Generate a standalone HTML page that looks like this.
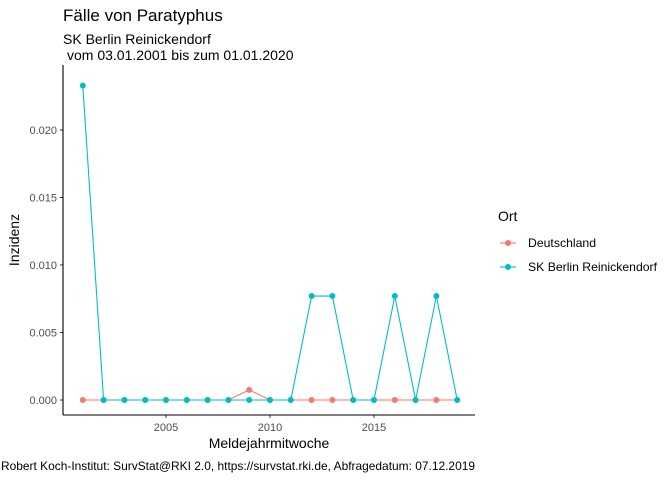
<!DOCTYPE html>
<html><head><meta charset="utf-8"><style>
body{margin:0;background:#fff;font-family:"Liberation Sans",sans-serif}
</style></head><body>
<svg width="672" height="480" font-family="Liberation Sans, sans-serif">
<text x="63" y="21" font-size="17" fill="#000">Fälle von Paratyphus</text>
<text x="63" y="44" font-size="14" fill="#000">SK Berlin Reinickendorf</text>
<text x="67" y="60" font-size="14" fill="#000">vom 03.01.2001 bis zum 01.01.2020</text>
<g id="plot"></g>
<line x1="63" y1="415" x2="475" y2="415" stroke="#000" stroke-width="1.1"/>
<line x1="63" y1="65" x2="63" y2="415" stroke="#000" stroke-width="1.1"/>
<text x="269" y="448" font-size="14" text-anchor="middle">Meldejahrmitwoche</text>
<text transform="translate(19,240) rotate(-90)" font-size="14" text-anchor="middle">Inzidenz</text>
<text x="498" y="221" font-size="14">Ort</text>
<g>
<line x1="500" y1="243" x2="516" y2="243" stroke="#F8766D" stroke-width="1.1"/><circle cx="508" cy="243" r="3" fill="#F8766D"/>
<text x="528" y="247" font-size="12" textLength="68" lengthAdjust="spacingAndGlyphs">Deutschland</text></g>
<g>
<line x1="500" y1="267" x2="516" y2="267" stroke="#00BFC4" stroke-width="1.1"/><circle cx="508" cy="267" r="3" fill="#00BFC4"/>
<text x="528" y="271" font-size="12" textLength="129" lengthAdjust="spacingAndGlyphs">SK Berlin Reinickendorf</text></g>
<text x="1" y="470" font-size="12" textLength="474" lengthAdjust="spacingAndGlyphs">Robert Koch-Institut: SurvStat@RKI 2.0, https://survstat.rki.de, Abfragedatum: 07.12.2019</text>
</svg>
<script>
const years=[2001,2002,2003,2004,2005,2006,2007,2008,2009,2010,2011,2012,2013,2014,2015,2016,2017,2018,2019];
const deutschland=[0,0,0,0,0,0,0,0,0.00075,0,0,0,0,0,0,0,0,0,0];
const reinickendorf=[0.0233,0,0,0,0,0,0,0,0,0,0,0.0077,0.0077,0,0,0.0077,0,0.0077,0];
const yTicks=[0,0.005,0.010,0.015,0.020];
const yTickLabels=["0.000","0.005","0.010","0.015","0.020"];
const xTicks=[2005,2010,2015];
const NS="http://www.w3.org/2000/svg";
const g=document.getElementById('plot');
const sx=y=>166+(y-2005)*20.8;
const sy=v=>400-v*13500;
function mk(t,a){const e=document.createElementNS(NS,t);for(const k in a)e.setAttribute(k,a[k]);g.appendChild(e);return e;}
yTicks.forEach((v,i)=>{
 const l=mk('line',{x1:60,x2:63,y1:sy(v),y2:sy(v),stroke:'#333'});
 
 
 const t=mk('text',{x:57,y:sy(v)+4,'font-size':11,fill:'#4d4d4d','text-anchor':'end'});
 t.textContent=yTickLabels[i];
 
 
});
xTicks.forEach(y=>{
 const l=mk('line',{x1:sx(y),x2:sx(y),y1:415,y2:418,stroke:'#333'});
 
 
 const t=mk('text',{x:sx(y),y:431,'font-size':11,fill:'#4d4d4d','text-anchor':'middle'});
 t.textContent=y;
 
 
});
function series(vals,col,name){
 const p=mk('polyline',{points:vals.map((v,i)=>sx(years[i])+','+sy(v)).join(' '),fill:'none',stroke:col,'stroke-width':1.1});
 
 
 vals.forEach((v,i)=>{
  const c=mk('circle',{cx:sx(years[i]),cy:sy(v),r:3,fill:col});
  
  
 });
}
series(deutschland,'#F8766D','deutschland');
series(reinickendorf,'#00BFC4','reinickendorf');
</script>
</body></html>
